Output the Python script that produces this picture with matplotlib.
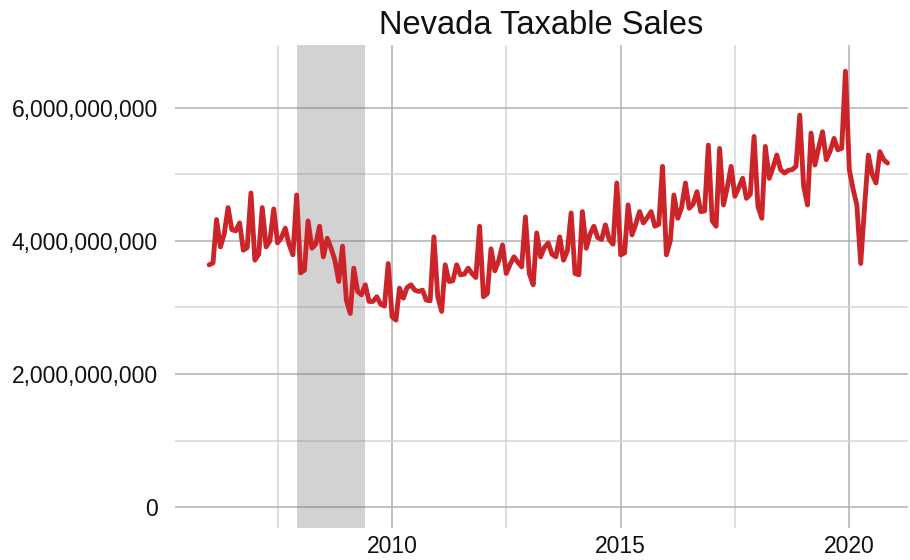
import numpy as np
import pandas as pd
import matplotlib
matplotlib.use('Agg')
import matplotlib.pyplot as plt
import matplotlib.dates as mdates
import matplotlib.ticker as mticker

# monthly taxable sales, billions of dollars, Jan 2006 - Nov 2020
sales_2006 = [3.64, 3.67, 4.32, 3.91, 4.10, 4.50, 4.17, 4.15, 4.27, 3.86, 3.90, 4.72]
sales_2007 = [3.71, 3.80, 4.50, 3.91, 4.00, 4.48, 3.97, 4.05, 4.19, 3.95, 3.79, 4.69]
sales_2008 = [3.52, 3.56, 4.30, 3.89, 3.95, 4.22, 3.76, 4.04, 3.89, 3.71, 3.39, 3.92]
sales_2009 = [3.11, 2.91, 3.59, 3.24, 3.19, 3.34, 3.09, 3.09, 3.16, 3.05, 3.02, 3.66]
sales_2010 = [2.86, 2.81, 3.29, 3.14, 3.30, 3.34, 3.26, 3.24, 3.26, 3.11, 3.10, 4.06]
sales_2011 = [3.16, 2.94, 3.64, 3.39, 3.40, 3.64, 3.49, 3.50, 3.59, 3.51, 3.45, 4.22]
sales_2012 = [3.16, 3.21, 3.88, 3.55, 3.70, 3.94, 3.51, 3.65, 3.76, 3.68, 3.61, 4.36]
sales_2013 = [3.51, 3.34, 4.12, 3.76, 3.90, 3.97, 3.80, 3.76, 4.06, 3.71, 3.85, 4.42]
sales_2014 = [3.51, 3.49, 4.44, 3.89, 4.10, 4.22, 4.05, 4.02, 4.24, 4.02, 3.95, 4.87]
sales_2015 = [3.79, 3.82, 4.54, 4.09, 4.25, 4.44, 4.27, 4.35, 4.44, 4.22, 4.25, 5.12]
sales_2016 = [3.79, 4.00, 4.69, 4.34, 4.50, 4.87, 4.49, 4.55, 4.74, 4.44, 4.45, 5.44]
sales_2017 = [4.30, 4.22, 5.39, 4.54, 4.80, 5.12, 4.67, 4.80, 4.94, 4.64, 4.70, 5.57]
sales_2018 = [4.52, 4.34, 5.42, 4.94, 5.10, 5.29, 5.07, 5.02, 5.06, 5.07, 5.12, 5.89]
sales_2019 = [4.82, 4.54, 5.62, 5.14, 5.40, 5.64, 5.22, 5.35, 5.54, 5.37, 5.39, 6.55]
sales_2020 = [5.07, 4.77, 4.54, 3.66, 4.50, 5.29, 5.00, 4.87, 5.34, 5.22, 5.17]

recession_start = '2007-12-01'
recession_end = '2009-06-01'

sales = np.array(sales_2006 + sales_2007 + sales_2008 + sales_2009 + sales_2010
                 + sales_2011 + sales_2012 + sales_2013 + sales_2014 + sales_2015
                 + sales_2016 + sales_2017 + sales_2018 + sales_2019 + sales_2020) * 1e9
dates = pd.date_range('2006-01-01', periods=len(sales), freq='MS')

plt.rcParams['font.family'] = ['Liberation Sans', 'DejaVu Sans']

fig = plt.figure(figsize=(9.1, 5.6), dpi=100)
ax = fig.add_axes([0.192, 0.057, 0.806, 0.863])

# shaded recession
ax.axvspan(pd.Timestamp(recession_start), pd.Timestamp(recession_end),
           color='#808080', alpha=0.35, lw=0, zorder=1)
ax.plot(dates, sales, color='#cc2529', lw=3.5, solid_capstyle='round',
        solid_joinstyle='round', zorder=3)

ax.set_xlim(pd.Timestamp('2005-04-01'), pd.Timestamp('2021-04-15'))
ax.set_ylim(-0.316e9, 6.947e9)

ax.xaxis.set_major_locator(mdates.YearLocator(5))
ax.xaxis.set_major_formatter(mdates.DateFormatter('%Y'))
ax.xaxis.set_minor_locator(mticker.FixedLocator(
    [mdates.date2num(pd.Timestamp(d)) for d in ['2007-07-02', '2012-07-02', '2017-07-02']]))
ax.yaxis.set_major_locator(mticker.MultipleLocator(2e9))
ax.yaxis.set_minor_locator(mticker.MultipleLocator(1e9))
ax.yaxis.set_major_formatter(mticker.FuncFormatter(lambda v, p: f'{v:,.0f}'))

ax.grid(which='major', color='#b0b0b0', lw=1.1, zorder=0)
ax.grid(which='minor', color='#d6d6d6', lw=1.1, zorder=0)
ax.set_axisbelow(True)
for s in ax.spines.values():
    s.set_visible(False)
ax.tick_params(which='both', length=0, labelsize=16.5, labelcolor='#111111')
ax.tick_params(axis='y', pad=12)
ax.tick_params(axis='x', pad=5)

ax.set_title('Nevada Taxable Sales', fontsize=23.5, color='#111111', pad=8)

fig.savefig('out.png', dpi=100)
